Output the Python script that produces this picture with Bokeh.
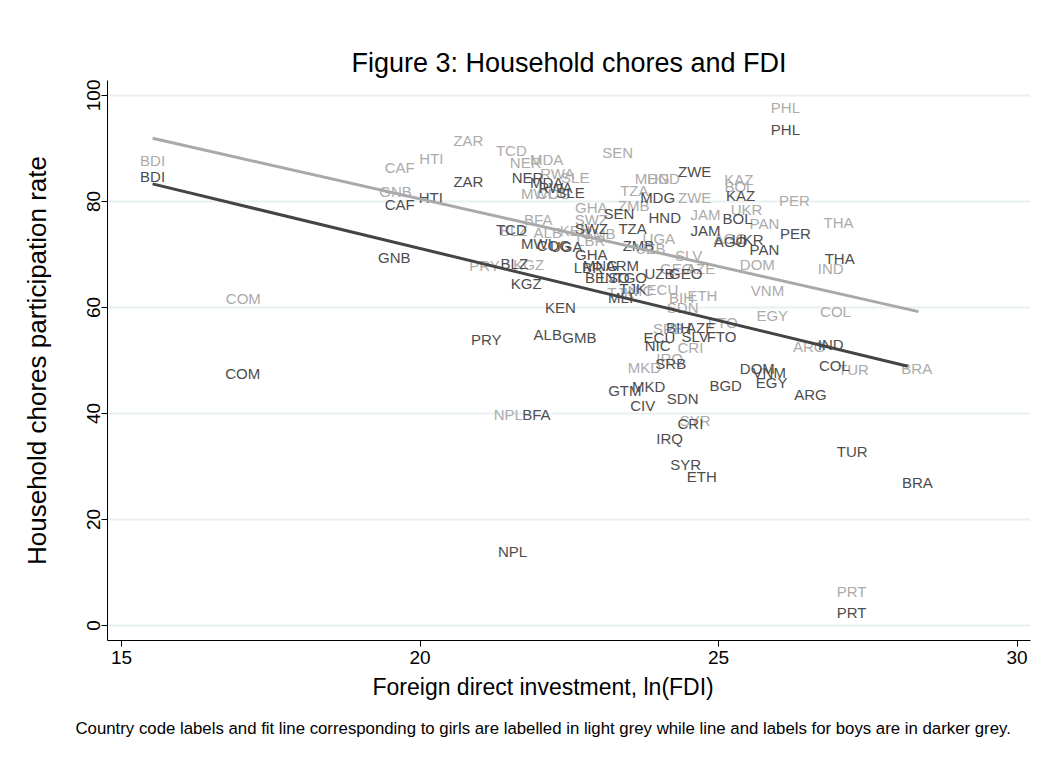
import numpy as np
from bokeh.plotting import figure
from bokeh.models import ColumnDataSource, Title, Range1d, FixedTicker
from bokeh.core.properties import value
from bokeh.embed import file_html
from bokeh.resources import INLINE

FONT = "Liberation Sans"

# Boys (darker grey labels)
boys_code = ["BDI","COM","GNB","CAF","HTI","ZAR","NER","MDA","RWA","SLE","TCD","SEN","SWZ","TZA",
             "MWI","COG","UGA","GHA","ZMB","LBR","MNG","ARM","BEN","LSO","TGO","UZB","GEO","TJK",
             "MLI","BLZ","KGZ","KEN","ALB","GMB","PRY","NPL","BFA","FTO","BIH","AZE","SLV","ECU",
             "NIC","SRB","GTM","MKD","CIV","SDN","CRI","IRQ","SYR","ETH","BGD","DOM","VNM","EGY",
             "ARG","COL","IND","TUR","BRA","PRT","THA","PER","PAN","UKR","AGO","BOL","KAZ","JAM",
             "HND","MDG","ZWE","PHL"]
boys_fdi = [15.52,17.03,19.57,19.66,20.18,20.81,21.80,22.12,22.27,22.52,21.53,23.33,22.87,23.56,
            21.95,22.24,22.45,22.87,23.66,22.82,23.02,23.39,23.02,23.26,23.53,24.01,24.45,23.56,
            23.36,21.58,21.78,22.35,22.14,22.67,21.11,21.55,21.95,25.05,24.33,24.70,24.61,24.01,
            23.98,24.20,23.43,23.83,23.73,24.40,24.53,24.18,24.45,24.72,25.12,25.65,25.85,25.89,
            26.54,26.94,26.88,27.24,28.33,27.23,27.03,26.29,25.77,25.49,25.20,25.32,25.37,24.78,
            24.10,23.98,24.60,26.12]
boys_rate = [84.7,47.5,69.4,79.4,80.8,83.8,84.5,83.6,82.6,81.7,74.7,77.7,74.9,74.9,
             72.1,71.7,71.5,70.0,71.7,67.5,67.9,67.9,65.7,65.7,65.7,66.4,66.4,63.6,
             61.9,68.3,64.5,60.0,54.9,54.3,54.0,14.0,39.8,54.5,56.2,56.2,54.5,54.3,
             52.8,49.4,44.3,45.1,41.5,42.8,38.1,35.3,30.4,28.1,45.3,48.5,47.7,45.8,
             43.6,49.1,53.0,32.8,27.0,2.5,69.2,74.0,70.9,72.8,72.5,76.8,81.1,74.5,
             77.0,80.8,85.7,93.6]

# Girls (light grey labels)
girls_code = ["BDI","COM","CAF","HTI","GNB","ZAR","TCD","NER","MDA","RWA","SLE","MWI","COG","SEN",
              "TZA","GHA","ZMB","SWZ","BFA","BLZ","ALB","KEN","GMB","LBR","PRY","KGZ","UGA","UZB",
              "SLV","GEO","AZE","ETH","BIH","SDN","ECU","TJK","NIC","FTO","SRB","CRI","IRQ","MKD",
              "NPL","SYR","EGY","VNM","DOM","IND","COL","ARG","TUR","BRA","PRT","THA","PER","PAN",
              "UKR","BOL","KAZ","JAM","ZWE","AGO","MDG","HND","PHL"]
girls_fdi = [15.52,17.04,19.66,20.19,19.59,20.81,21.53,21.77,22.12,22.30,22.60,21.95,22.24,23.31,
             23.59,22.87,23.58,22.87,21.98,21.57,22.14,22.60,22.99,22.86,21.08,21.82,24.00,23.86,
             24.50,24.30,24.70,24.73,24.38,24.40,24.06,23.36,23.69,25.07,24.16,24.53,24.18,23.76,
             21.48,24.61,25.90,25.82,25.65,26.88,26.96,26.52,27.26,28.32,27.23,27.01,26.27,25.77,
             25.47,25.35,25.34,24.78,24.60,25.20,23.89,24.08,26.12]
girls_rate = [87.7,61.7,86.4,88.1,81.9,91.5,89.6,87.4,87.9,85.3,84.5,81.5,81.5,89.2,
              82.1,78.9,79.2,76.6,76.6,74.5,74.2,74.5,74.0,72.6,67.9,68.1,73.0,71.1,
              69.8,67.4,67.4,62.3,61.9,60.0,63.4,62.8,63.2,57.2,56.0,52.5,50.4,48.7,
              39.8,38.7,58.5,63.2,68.1,67.4,59.2,52.6,48.3,48.5,6.4,76.0,80.2,75.8,
              78.5,82.8,84.2,77.5,80.8,73.0,84.3,84.3,97.7]

# Linear fit lines (endpoints)
fit_girls_x = [15.52, 28.35]
fit_girls_y = [91.9, 59.2]
fit_boys_x = [15.52, 28.17]
fit_boys_y = [83.3, 48.9]

x_ticks = [15, 20, 25, 30]
y_ticks = [0, 20, 40, 60, 80, 100]

DARK = "#4d4d4d"
LIGHT = "#ababab"

p = figure(width=1048, height=769, output_backend="svg", toolbar_location=None,
           x_range=Range1d(14.765, 30.226), y_range=Range1d(-2.83, 102.8),
           min_border_left=107, min_border_right=18, min_border_top=80, min_border_bottom=129)
p.outline_line_color = None
p.background_fill_color = "white"
p.border_fill_color = "white"

p.title.text = "Figure 3: Household chores and FDI"
p.title.text_font = FONT
p.title.text_font_size = "27px"
p.title.text_font_style = "normal"
p.title.align = "center"
p.title.text_color = "black"
p.title.standoff = 6

xtitle = Title(text="Foreign direct investment, ln(FDI)", text_font=FONT, text_font_size="23px",
               text_font_style="normal", align="left", text_color="black", offset=265, standoff=11)
p.add_layout(xtitle, "below")
note = Title(text="Country code labels and fit line corresponding to girls are labelled in light grey while line and labels for boys are in darker grey.",
             text_font=FONT, text_font_size="16.8px", text_font_style="normal", align="left",
             text_color="black", offset=-32, standoff=23)
p.add_layout(note, "below")

p.xgrid.grid_line_color = None
p.ygrid.grid_line_color = "#e8f0f2"
p.ygrid.grid_line_width = 2
p.ygrid.ticker = FixedTicker(ticks=y_ticks)

for ax in (p.xaxis[0], p.yaxis[0]):
    ax.axis_line_color = "black"
    ax.major_tick_line_color = "black"
    ax.minor_tick_line_color = None
    ax.major_tick_out = 6
    ax.major_tick_in = 0
    ax.major_label_text_font = FONT
    ax.major_label_text_font_size = "19px"
    ax.major_label_text_color = "black"
    ax.axis_label_text_font = FONT
    ax.axis_label_text_font_size = "26px"
    ax.axis_label_text_font_style = "normal"
    ax.axis_label_text_color = "black"

p.xaxis.ticker = FixedTicker(ticks=x_ticks)
p.yaxis.ticker = FixedTicker(ticks=y_ticks)
p.yaxis.axis_label = "Household chores participation rate"
p.yaxis.major_label_orientation = "parallel"
p.xaxis.major_label_standoff = 4
p.yaxis.major_label_standoff = 1
p.yaxis.axis_label_standoff = 33

src_g = ColumnDataSource(dict(x=girls_fdi, y=girls_rate, t=girls_code))
src_b = ColumnDataSource(dict(x=boys_fdi, y=boys_rate, t=boys_code))

p.text(x="x", y="y", text="t", source=src_g, text_align="center", text_baseline="middle",
       text_font=value(FONT), text_font_size="15px", text_color=LIGHT)
p.text(x="x", y="y", text="t", source=src_b, text_align="center", text_baseline="middle",
       text_font=value(FONT), text_font_size="15px", text_color=DARK)

p.line(fit_girls_x, fit_girls_y, line_color="#a9a9a9", line_width=3)
p.line(fit_boys_x, fit_boys_y, line_color="#444444", line_width=3)

open("out.html", "w").write(file_html(p, INLINE))
